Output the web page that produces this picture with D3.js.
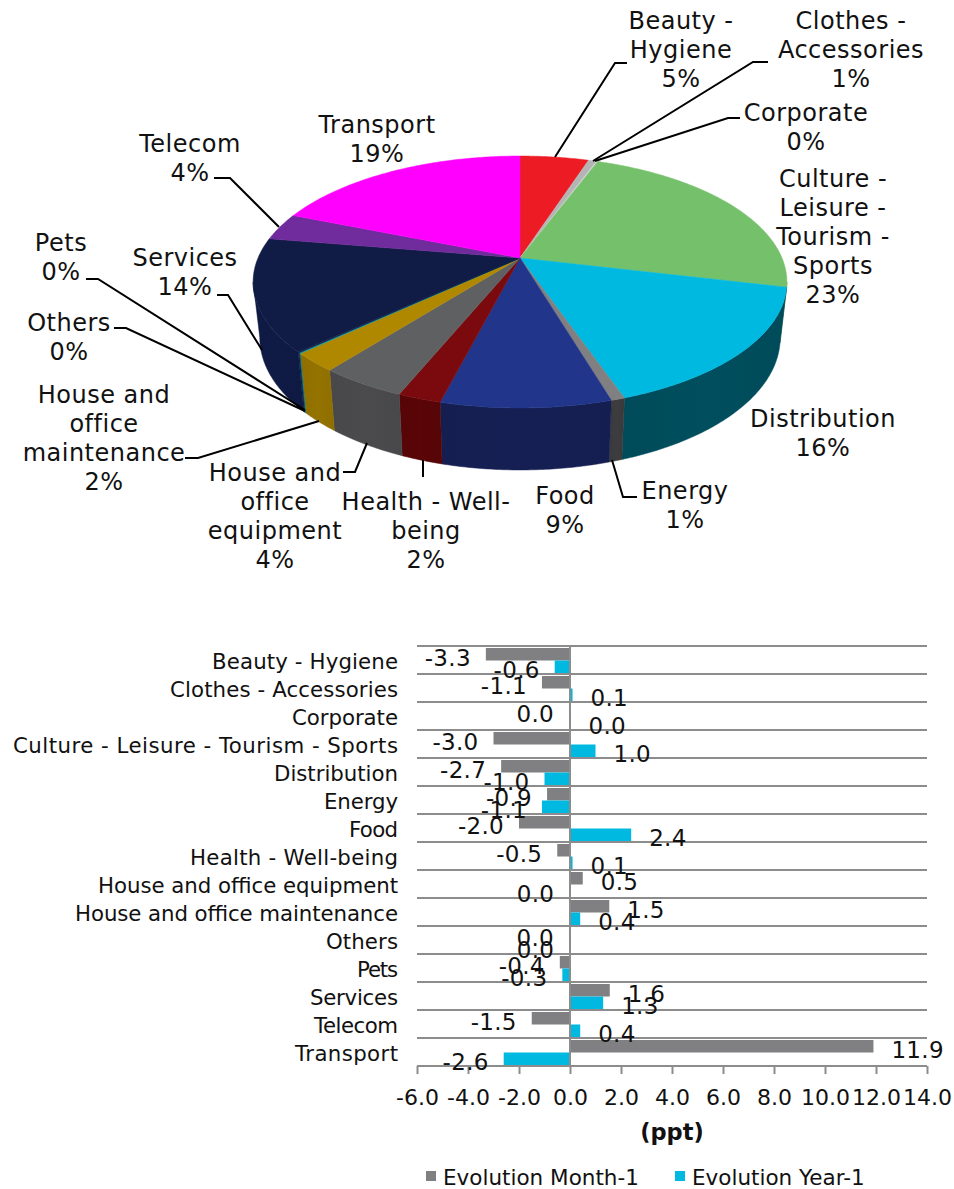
<!DOCTYPE html>
<html>
<head>
<meta charset="utf-8">
<script src="https://cdn.jsdelivr.net/npm/d3@7"></script>
<style>
  body { margin: 0; background: #fff; }
  text { font-family: "DejaVu Sans", sans-serif; font-size: 22px; fill: #111; }
  .domain { display: none; }
  .pie-label text { font-size: 24px; letter-spacing: 0.5px; }
  .cat-label text { font-size: 21.3px; }
  .val-label text { font-size: 23px; letter-spacing: 0.3px; }
</style>
</head>
<body>
<svg id="chart" width="954" height="1189"></svg>
<script>
// Pie data
const pieCategories = ["Beauty - Hygiene", "Clothes - Accessories", "Corporate", "Culture - Leisure - Tourism - Sports", "Distribution", "Energy", "Food", "Health - Well-being", "House and office equipment", "House and office maintenance", "Others", "Pets", "Services", "Telecom", "Transport"];
const pieShares = [5.0, 0.6, 0.1, 23.0, 16.0, 0.7, 8.6, 2.2, 4.4, 2.4, 0.1, 0.1, 14.4, 3.5, 18.9];
const topColors = ["#ed1c24", "#b4b4b4", "#d4d4d4", "#75c06b", "#00b9e1", "#808082", "#21358a", "#7a0a0e", "#5f6062", "#b08800", "#00a5b5", "#101c45", "#101c45", "#702b9c", "#ff00ff"];
const wallColors = ["#a01318", "#808080", "#909090", "#4f8248", "#004b5a", "#3a3a3c", "#141e50", "#560507", "#48484a", "#8f6e00", "#007a88", "#0e1a42", "#0e1a42", "#4d1d6b", "#b000b0"];

// Bar data
const barCategories = pieCategories;
const monthValues = [-3.3, -1.1, -0.04, -3.0, -2.7, -0.9, -2.0, -0.5, 0.5, 1.54, -0.04, -0.4, 1.56, -1.5, 11.9];
const yearValues = [-0.6, 0.1, 0.02, 1.0, -1.0, -1.1, 2.4, 0.1, -0.03, 0.4, -0.03, -0.3, 1.3, 0.4, -2.6];
const xTicks = [-6, -4, -2, 0, 2, 4, 6, 8, 10, 12, 14];
const seriesNames = ["Evolution Month-1", "Evolution Year-1"];
const seriesColors = ["#808082", "#00b9e1"];

// Category label widths, the original font runs wider on some of them
const catWidths = [186, 228, 106, 385, 124, 74, 49, 208, 300, 323, 72, 41, 88, 84, 103];

// Pie label layout: lines, centre x, centre y of first line
const pieLabels = [
  { lines: ["Beauty -", "Hygiene", "5%"], x: 681, y: 20 },
  { lines: ["Clothes -", "Accessories", "1%"], x: 851, y: 20 },
  { lines: ["Corporate", "0%"], x: 806, y: 112 },
  { lines: ["Culture -", "Leisure -", "Tourism -", "Sports", "23%"], x: 833, y: 178 },
  { lines: ["Distribution", "16%"], x: 823, y: 418 },
  { lines: ["Energy", "1%"], x: 685, y: 490 },
  { lines: ["Food", "9%"], x: 565, y: 495 },
  { lines: ["Health - Well-", "being", "2%"], x: 426, y: 501 },
  { lines: ["House and", "office", "equipment", "4%"], x: 275, y: 472 },
  { lines: ["House and", "office", "maintenance", "2%"], x: 104, y: 394 },
  { lines: ["Others", "0%"], x: 69, y: 322 },
  { lines: ["Pets", "0%"], x: 61, y: 242 },
  { lines: ["Services", "14%"], x: 185, y: 257 },
  { lines: ["Telecom", "4%"], x: 190, y: 143 },
  { lines: ["Transport", "19%"], x: 377, y: 124 }
];
const leaderLines = [
  [[627, 63], [615, 63], [555, 157]],
  [[768, 62], [753, 62], [593, 161]],
  [[740, 118], [728, 118], [595, 161]],
  [[637, 497], [623, 497], [612, 460]],
  [[423, 460], [423, 477]],
  [[343, 472], [355, 472], [367, 443]],
  [[185, 458], [198, 458], [319, 421]],
  [[114, 328], [126, 328], [305, 411]],
  [[86, 279], [98, 279], [305, 410]],
  [[217, 295], [228, 295], [262, 350]],
  [[214, 178], [230, 178], [279, 227]]
];

const svg = d3.select("#chart");
const defs = svg.append("defs");

// Perspective projection of the pie disk onto the page
const pieX = 520;
const pieY = 258;
const persp = 0.1905;
const radX = 262;
const radY = 121.4;
const project = (a) => {
  const u = Math.sin(a);
  const v = -Math.cos(a);
  const w = 1 - persp * v;
  return [pieX + (radX * u) / w, pieY + (radY * v) / w];
};
const projectBottom = (a) => {
  const [x, y] = project(a);
  return [pieX + (x - pieX) * 0.975, y + 54 - 8 * Math.cos(a)];
};
const arcPoints = (f, a0, a1) => {
  const n = Math.max(2, Math.ceil((a1 - a0) / 0.01));
  return d3.range(n + 1).map((i) => f(a0 + ((a1 - a0) * i) / n));
};

const slices = d3.pie().sort(null).value((d) => d)(pieShares);
const line = d3.line();
const pieG = svg.append("g");

// Side walls, only between the two silhouette angles
const wallMin = Math.PI - Math.acos(persp);
const wallMax = Math.PI + Math.acos(persp);
slices.forEach((s, i) => {
  const a0 = Math.max(s.startAngle, wallMin);
  const a1 = Math.min(s.endAngle, wallMax);
  if (a1 <= a0) return;
  const gradId = "wall" + i;
  const grad = defs.append("linearGradient").attr("id", gradId);
  grad.append("stop").attr("offset", 0).attr("stop-color", wallColors[i]);
  grad.append("stop").attr("offset", 0.5).attr("stop-color", d3.color(wallColors[i]).brighter(0.12));
  grad.append("stop").attr("offset", 1).attr("stop-color", wallColors[i]);
  const pts = arcPoints(project, a0, a1).concat(arcPoints(projectBottom, a0, a1).reverse());
  pieG.append("path")
    .attr("d", line(pts) + "Z")
    .attr("fill", "url(#" + gradId + ")")
    .attr("stroke", wallColors[i])
    .attr("stroke-width", 0.5);
});

// Top surface
slices.forEach((s, i) => {
  const pts = [[pieX, pieY]].concat(arcPoints(project, s.startAngle, s.endAngle));
  pieG.append("path")
    .attr("d", line(pts) + "Z")
    .attr("fill", topColors[i])
    .attr("stroke", topColors[i])
    .attr("stroke-width", 0.5);
});

// Leader lines
svg.append("g").selectAll("path").data(leaderLines).join("path")
  .attr("d", (d) => line(d))
  .attr("fill", "none")
  .attr("stroke", "#000")
  .attr("stroke-width", 2);

// Pie labels
const lineGap = 29;
const labelG = svg.append("g").attr("class", "pie-label").attr("text-anchor", "middle");
pieLabels.forEach((l) => {
  l.lines.forEach((t, i) => {
    labelG.append("text")
      .attr("x", l.x)
      .attr("y", l.y + i * lineGap)
      .attr("dy", "0.37em")
      .text(t);
  });
});

// Bar chart
const xScale = d3.scaleLinear().domain([-6, 14]).range([417, 927]);
const yScale = d3.scaleBand().domain(barCategories).range([646, 1066]);
const seriesScale = d3.scaleBand().domain([0, 1]).range([2, 27]);
const fmt = d3.formatLocale({ decimal: ".", thousands: ",", grouping: [3], currency: ["", ""], minus: "-" }).format(".1f");

// Gridlines on the category boundaries
svg.append("g").selectAll("line").data(barCategories).join("line")
  .attr("x1", xScale(-6))
  .attr("x2", xScale(14))
  .attr("y1", (d) => yScale(d))
  .attr("y2", (d) => yScale(d))
  .attr("stroke", "#8c8c8c")
  .attr("stroke-width", 2);

[monthValues, yearValues].forEach((values, s) => {
  svg.append("g").selectAll("rect").data(values).join("rect")
    .attr("x", (d) => Math.min(xScale(d), xScale(0)))
    .attr("width", (d) => Math.abs(xScale(d) - xScale(0)))
    .attr("y", (d, i) => yScale(barCategories[i]) + seriesScale(s))
    .attr("height", seriesScale.bandwidth())
    .attr("fill", seriesColors[s]);
});

// X axis
const xAxisG = svg.append("g")
  .attr("transform", "translate(0,1066)")
  .call(d3.axisBottom(xScale).tickValues(xTicks).tickFormat(fmt).tickSize(8).tickSizeOuter(0).tickPadding(15));
xAxisG.selectAll(".tick line").attr("stroke", "#8c8c8c").attr("stroke-width", 2);
svg.append("line")
  .attr("x1", xScale(-6)).attr("x2", xScale(14))
  .attr("y1", 1066).attr("y2", 1066)
  .attr("stroke", "#8c8c8c").attr("stroke-width", 2);
svg.append("line")
  .attr("x1", xScale(0)).attr("x2", xScale(0))
  .attr("y1", 646).attr("y2", 1066)
  .attr("stroke", "#8c8c8c").attr("stroke-width", 2);

// Y axis labels
const yAxisG = svg.append("g")
  .attr("class", "cat-label")
  .attr("transform", "translate(398,1.5)")
  .call(d3.axisLeft(yScale).tickSize(0).tickPadding(0));
yAxisG.selectAll("text")
  .attr("dy", "0.37em")
  .attr("textLength", (d, i) => catWidths[i])
  .attr("lengthAdjust", "spacing");

// Value labels
[monthValues, yearValues].forEach((values, s) => {
  svg.append("g").attr("class", "val-label").selectAll("text").data(values).join("text")
    .attr("x", (d) => xScale(d) + (d < 0 ? -15 : 18))
    .attr("y", (d, i) => yScale(barCategories[i]) + seriesScale(s) + seriesScale.bandwidth() / 2 + 3)
    .attr("dy", "0.37em")
    .attr("text-anchor", (d) => (d < 0 ? "end" : "start"))
    .text((d) => fmt(d));
});

// Axis title
svg.append("text")
  .attr("x", 672).attr("y", 1132).attr("dy", "0.37em")
  .attr("text-anchor", "middle")
  .style("font-weight", "bold")
  .style("font-size", "22.5px")
  .text("(ppt)");

// Legend
const legendX = [426, 675];
seriesNames.forEach((name, i) => {
  svg.append("rect")
    .attr("x", legendX[i]).attr("y", 1171)
    .attr("width", 10).attr("height", 10)
    .attr("fill", seriesColors[i]);
  svg.append("text")
    .attr("x", legendX[i] + 17).attr("y", 1177).attr("dy", "0.37em")
    .style("font-size", "21.5px")
    .text(name);
});
</script>
</body>
</html>
